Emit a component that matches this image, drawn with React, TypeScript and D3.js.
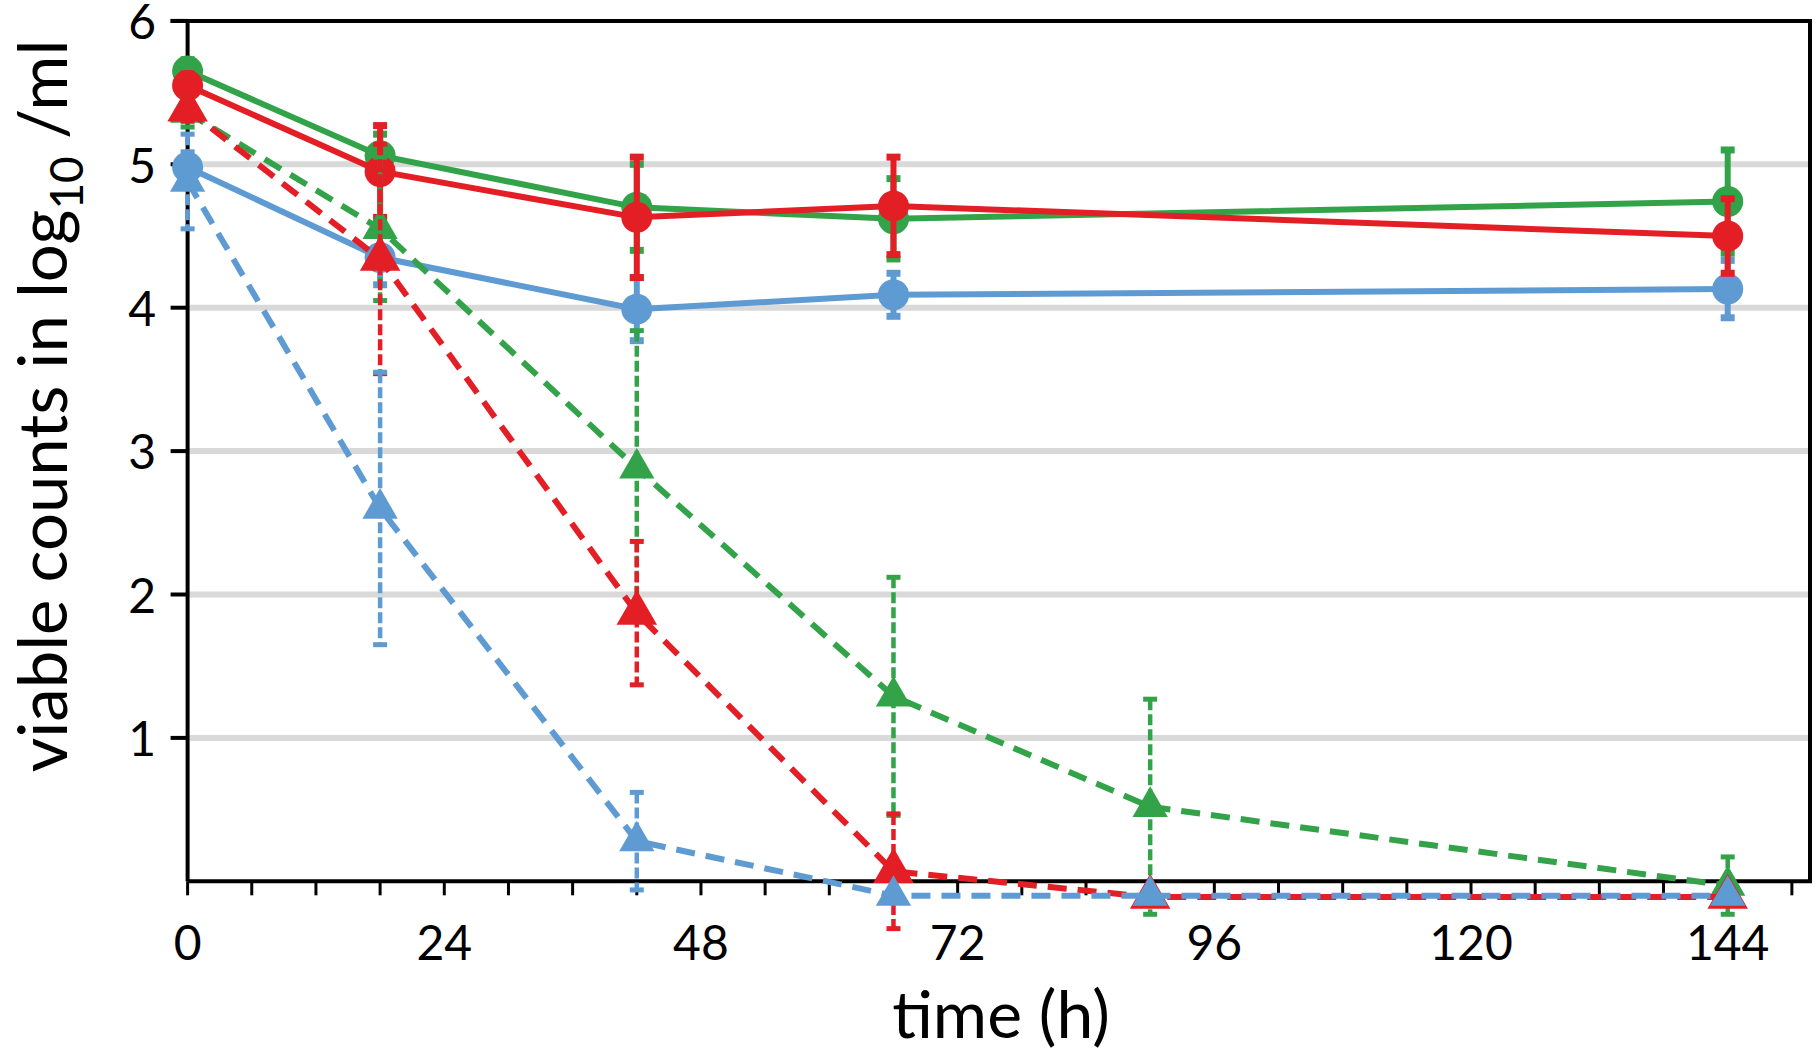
import React from 'react';
import * as d3 from 'd3';

const times = [0, 18, 42, 66, 90, 144];

const greenSolid = [5.65, 5.06, 4.7, 4.62, null, 4.74];
const greenSolidErr = [0.08, 0.15, 0.3, 0.28, null, 0.36];
const redSolid = [5.55, 4.95, 4.63, 4.71, null, 4.5];
const redSolidErr = [0.08, 0.32, 0.42, 0.34, null, 0.26];
const blueSolid = [4.98, 4.35, 3.99, 4.09, null, 4.13];
const blueSolidErr = [0.1, 0.19, 0.22, 0.15, null, 0.2];

const greenDashed = [5.36, 4.55, 2.88, 1.29, 0.52, -0.03];
const greenDashedErr = [0.1, 0.5, 0.96, 0.83, 0.75, 0.2];
const redDashed = [5.38, 4.34, 1.87, 0.07, -0.11, -0.11];
const redDashedErr = [0.08, 0.8, 0.5, 0.4, 0, 0];
const blueDashed = [4.88, 2.6, 0.28, -0.1, -0.1, -0.1];
const blueDashedErr = [0.33, 0.95, 0.34, 0, 0, 0];

const xTickLabels = [0, 24, 48, 72, 96, 120, 144];
const xMinorStep = 6;
const xAxisMax = 150;
const yTickLabels = [1, 2, 3, 4, 5, 6];
const gridValues = [1, 2, 3, 4, 5];

const GREEN = '#33a34a';
const RED = '#e41e25';
const BLUE = '#5f9bd3';

type Series = {
  values: (number | null)[];
  errs: (number | null)[];
  color: string;
  dashed: boolean;
};

const seriesList: Series[] = [
  { values: blueSolid, errs: blueSolidErr, color: BLUE, dashed: false },
  { values: greenSolid, errs: greenSolidErr, color: GREEN, dashed: false },
  { values: redSolid, errs: redSolidErr, color: RED, dashed: false },
  { values: greenDashed, errs: greenDashedErr, color: GREEN, dashed: true },
  { values: redDashed, errs: redDashedErr, color: RED, dashed: true },
  { values: blueDashed, errs: blueDashedErr, color: BLUE, dashed: true },
];

const W = 1816;
const H = 1057;
const FONT = 'Lato, "Open Sans", sans-serif';

export default function App() {
  const x = d3.scaleLinear().domain([0, 144]).range([187.6, 1727.7]);
  const y = d3.scaleLinear().domain([0, 6]).range([881.3, 20.9]);
  const left = x(0);
  const right = 1810;
  const top = y(6);
  const bottom = y(0);
  const minorTicks = d3.range(0, xAxisMax + 0.001, xMinorStep);
  const tri = d3.symbol().type(d3.symbolTriangle).size(540)();

  return (
    <div style={{ position: 'absolute', left: 0, top: 0 }}>
      <svg width={W} height={H} viewBox={`0 0 ${W} ${H}`} style={{ display: 'block', background: '#fff' }}>
        {/* gridlines */}
        {gridValues.map((v) => (
          <line key={'g' + v} x1={left} x2={right} y1={y(v)} y2={y(v)} stroke="#d9d9d9" strokeWidth={6} />
        ))}
        {/* frame */}
        <line x1={left - 17} x2={right + 2} y1={top} y2={top} stroke="#000" strokeWidth={4} />
        <line x1={right} x2={right} y1={top} y2={bottom} stroke="#000" strokeWidth={4} />
        {/* axes */}
        <line x1={left} x2={left} y1={top} y2={bottom} stroke="#000" strokeWidth={4} />
        <line x1={left} x2={right + 2} y1={bottom} y2={bottom} stroke="#000" strokeWidth={4} />
        {yTickLabels.map((v) => (
          <g key={'yt' + v}>
            <line x1={left - 17} x2={left} y1={y(v)} y2={y(v)} stroke="#000" strokeWidth={4} />
            <text x={156} y={y(v)} dy="0.38em" textAnchor="end" fontFamily={FONT} fontSize={48} fill="#000">
              {v}
            </text>
          </g>
        ))}
        {minorTicks.map((t) => (
          <line key={'xt' + t} x1={x(t)} x2={x(t)} y1={bottom} y2={bottom + 14} stroke="#000" strokeWidth={3} />
        ))}
        {xTickLabels.map((t) => (
          <text key={'xl' + t} x={x(t)} y={960} textAnchor="middle" fontFamily={FONT} fontSize={48} fill="#000">
            {t}
          </text>
        ))}
        {/* axis titles */}
        <text x={1001} y={1038} textAnchor="middle" fontFamily={FONT} fontSize={66} fill="#000">
          time (h)
        </text>
        <text
          transform={`translate(67, 406) rotate(-90)`}
          textAnchor="middle"
          fontFamily={FONT}
          fontSize={67}
          fill="#000"
        >
          viable counts in log
          <tspan fontSize={46} dy={16}>10</tspan>
          <tspan dy={-16}> /ml</tspan>
        </text>

        {/* series */}
        {seriesList.map((s, si) => {
          const pts = times
            .map((t, i) => ({ t, v: s.values[i], e: s.errs[i] }))
            .filter((p) => p.v !== null) as { t: number; v: number; e: number | null }[];
          const line = d3
            .line<{ t: number; v: number }>()
            .x((p) => x(p.t))
            .y((p) => y(p.v));
          const capW = 14;
          return (
            <g key={'s' + si}>
              {pts.map((p, i) =>
                p.e && p.e > 0 ? (
                  <g key={'e' + i}>
                    <line
                      x1={x(p.t)}
                      x2={x(p.t)}
                      y1={y(p.v + p.e)}
                      y2={y(p.v - p.e)}
                      stroke={s.color}
                      strokeWidth={s.dashed ? 4.5 : 6}
                      strokeDasharray={s.dashed ? '11 4' : undefined}
                    />
                    <line x1={x(p.t) - capW / 2} x2={x(p.t) + capW / 2} y1={y(p.v + p.e)} y2={y(p.v + p.e)} stroke={s.color} strokeWidth={s.dashed ? 5 : 7} />
                    <line x1={x(p.t) - capW / 2} x2={x(p.t) + capW / 2} y1={y(p.v - p.e)} y2={y(p.v - p.e)} stroke={s.color} strokeWidth={s.dashed ? 5 : 7} />
                  </g>
                ) : null
              )}
              <path
                d={line(pts) || ''}
                fill="none"
                stroke={s.color}
                strokeWidth={6}
                strokeDasharray={s.dashed ? '19 11' : undefined}
              />
              {pts.map((p, i) =>
                s.dashed ? (
                  <path
                    key={'m' + i}
                    d={tri || ''}
                    transform={`translate(${x(p.t)},${y(p.v)})`}
                    fill={s.color}
                    stroke={s.color === RED ? RED : 'none'}
                    strokeWidth={3}
                  />
                ) : (
                  <circle key={'m' + i} cx={x(p.t)} cy={y(p.v)} r={15.5} fill={s.color} />
                )
              )}
            </g>
          );
        })}
      </svg>
    </div>
  );
}
